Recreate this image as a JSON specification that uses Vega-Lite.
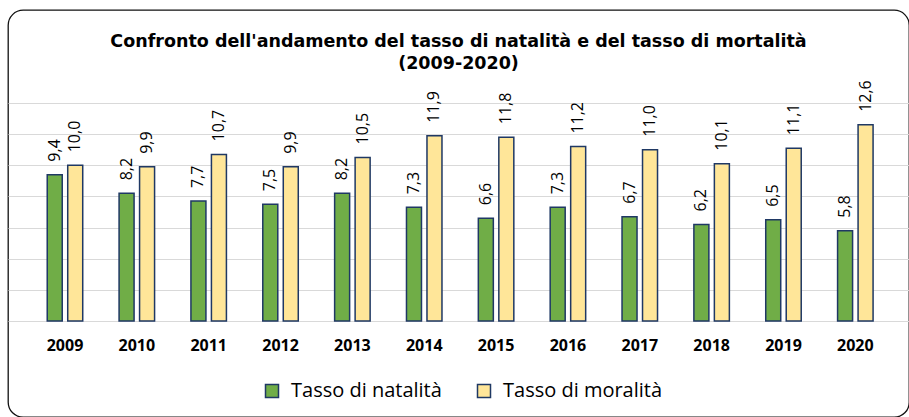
{
  "$schema": "https://vega.github.io/schema/vega-lite/v6.json",
  "width": 901,
  "height": 407,
  "autosize": {"type": "none"},
  "padding": {"left": 8, "top": 10, "right": 0, "bottom": 0},
  "background": "white",
  "title": {
    "text": ["Confronto dell'andamento del tasso di natalità e del tasso di mortalità", "(2009-2020)"],
    "font": "DejaVu Sans",
    "fontSize": 17.5,
    "fontWeight": "bold",
    "color": "#000000",
    "anchor": "middle",
    "offset": -62,
    "lineHeight": 22
  },
  "data": {
    "values": [
      {"anno": "2009", "serie": "Tasso di natalità", "valore": 9.4},
      {"anno": "2009", "serie": "Tasso di moralità", "valore": 10.0},
      {"anno": "2010", "serie": "Tasso di natalità", "valore": 8.2},
      {"anno": "2010", "serie": "Tasso di moralità", "valore": 9.9},
      {"anno": "2011", "serie": "Tasso di natalità", "valore": 7.7},
      {"anno": "2011", "serie": "Tasso di moralità", "valore": 10.7},
      {"anno": "2012", "serie": "Tasso di natalità", "valore": 7.5},
      {"anno": "2012", "serie": "Tasso di moralità", "valore": 9.9},
      {"anno": "2013", "serie": "Tasso di natalità", "valore": 8.2},
      {"anno": "2013", "serie": "Tasso di moralità", "valore": 10.5},
      {"anno": "2014", "serie": "Tasso di natalità", "valore": 7.3},
      {"anno": "2014", "serie": "Tasso di moralità", "valore": 11.9},
      {"anno": "2015", "serie": "Tasso di natalità", "valore": 6.6},
      {"anno": "2015", "serie": "Tasso di moralità", "valore": 11.8},
      {"anno": "2016", "serie": "Tasso di natalità", "valore": 7.3},
      {"anno": "2016", "serie": "Tasso di moralità", "valore": 11.2},
      {"anno": "2017", "serie": "Tasso di natalità", "valore": 6.7},
      {"anno": "2017", "serie": "Tasso di moralità", "valore": 11.0},
      {"anno": "2018", "serie": "Tasso di natalità", "valore": 6.2},
      {"anno": "2018", "serie": "Tasso di moralità", "valore": 10.1},
      {"anno": "2019", "serie": "Tasso di natalità", "valore": 6.5},
      {"anno": "2019", "serie": "Tasso di moralità", "valore": 11.1},
      {"anno": "2020", "serie": "Tasso di natalità", "valore": 5.8},
      {"anno": "2020", "serie": "Tasso di moralità", "valore": 12.6}
    ]
  },
  "encoding": {
    "x": {
      "field": "anno",
      "type": "nominal",
      "scale": {"paddingInner": 0.506, "paddingOuter": 0.523, "align": 0.522},
      "axis": {
        "title": null,
        "domain": false,
        "ticks": false,
        "tickSize": 0,
        "grid": false,
        "labelAngle": 0,
        "labelPadding": 16,
        "offset": -96,
        "labelFont": "Open Sans",
        "labelFontSize": 16,
        "labelFontWeight": "bold",
        "labelColor": "#000000"
      }
    },
    "xOffset": {
      "field": "serie",
      "type": "nominal",
      "scale": {"domain": ["Tasso di natalità", "Tasso di moralità"], "paddingInner": 0.268}
    },
    "y": {
      "field": "valore",
      "type": "quantitative",
      "scale": {"domain": [-6.166, 19.974], "nice": false, "zero": false},
      "axis": {
        "title": null,
        "values": [0, 2, 4, 6, 8, 10, 12, 14],
        "grid": true,
        "gridColor": "#d9d9d9",
        "gridWidth": 1,
        "labels": false,
        "ticks": false,
        "domain": false
      }
    }
  },
  "layer": [
    {
      "mark": {"type": "bar", "stroke": "#1f3864", "strokeWidth": 1.5},
      "encoding": {
        "y2": {"datum": 0},
        "color": {
          "field": "serie",
          "type": "nominal",
          "scale": {"domain": ["Tasso di natalità", "Tasso di moralità"], "range": ["#70ad47", "#ffe699"]},
          "legend": {
            "orient": "none",
            "legendX": 254,
            "legendY": 371,
            "direction": "horizontal",
            "title": null,
            "symbolType": "square",
            "symbolSize": 169,
            "symbolStrokeColor": "#1f3864",
            "symbolStrokeWidth": 1.5,
            "symbolOpacity": 1,
            "labelFont": "Open Sans",
            "labelFontSize": 20,
            "labelColor": "#000000",
            "labelOffset": 9,
            "labelLimit": 300,
            "columnPadding": 32,
            "padding": 0
          }
        }
      }
    },
    {
      "mark": {"type": "text", "angle": 270, "align": "left", "baseline": "middle", "dx": 13, "font": "Open Sans", "fontSize": 16, "color": "#000000"},
      "encoding": {
        "text": {"field": "valore", "type": "quantitative", "format": ".1f"}
      }
    }
  ],
  "config": {
    "locale": {"number": {"decimal": ",", "thousands": ".", "grouping": [3], "currency": ["", " €"]}},
    "view": {"stroke": "#111111", "strokeWidth": 1.3, "cornerRadius": 15, "fill": "white"}
  }
}
